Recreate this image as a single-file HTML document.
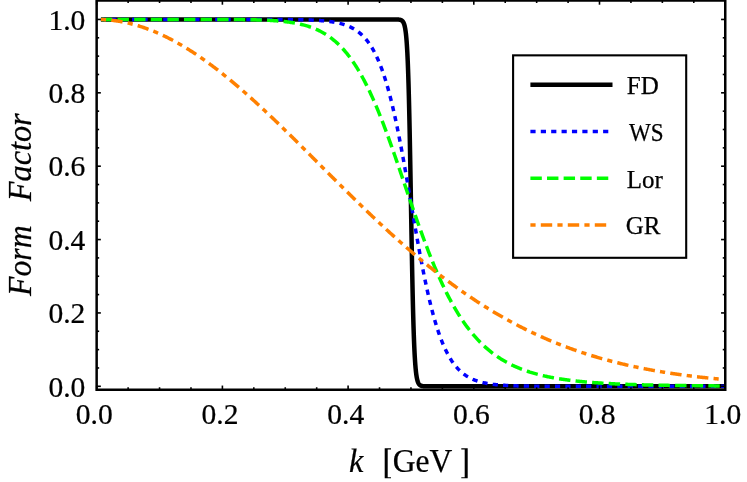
<!DOCTYPE html>
<html><head><meta charset="utf-8"><title>Form Factor</title>
<style>
html,body{margin:0;padding:0;background:#fff;}
body{width:747px;height:482px;overflow:hidden;font-family:"Liberation Serif",serif;}
svg{display:block;will-change:transform;}
text{font-family:"Liberation Serif",serif;fill:#000;stroke:#000;stroke-width:0.25px;}
.tl text{font-size:30.3px;}
.lg text{font-size:25px;}
.ax{font-size:32px;}
.it{font-style:italic;}
</style></head><body>
<svg width="747" height="482" viewBox="0 0 747 482">
<rect x="0" y="0" width="747" height="482" fill="#fff"/>
<g fill="none" stroke-linecap="butt" stroke-linejoin="round">
<path d="M100.900,19.450 L108.180,19.450 L115.460,19.450 L122.740,19.450 L130.019,19.450 L137.299,19.450 L144.579,19.450 L151.859,19.450 L159.139,19.450 L166.419,19.450 L173.699,19.450 L180.979,19.450 L188.258,19.450 L195.538,19.450 L202.818,19.450 L210.098,19.450 L217.378,19.450 L224.658,19.450 L231.938,19.450 L239.218,19.450 L246.498,19.450 L253.777,19.450 L261.057,19.450 L268.337,19.450 L275.617,19.450 L282.897,19.450 L290.177,19.450 L297.457,19.450 L304.737,19.450 L312.016,19.450 L319.296,19.450 L326.576,19.450 L333.856,19.450 L341.136,19.450 L348.416,19.450 L355.696,19.450 L362.976,19.450 L370.255,19.450 L377.535,19.450 L384.815,19.450 L392.095,19.452 L392.189,19.452 L392.284,19.453 L392.378,19.453 L392.472,19.453 L392.566,19.453 L392.661,19.453 L392.755,19.453 L392.849,19.454 L392.943,19.454 L393.038,19.454 L393.132,19.454 L393.226,19.455 L393.321,19.455 L393.415,19.455 L393.509,19.456 L393.603,19.456 L393.698,19.456 L393.792,19.457 L393.886,19.457 L393.980,19.457 L394.075,19.458 L394.169,19.458 L394.263,19.459 L394.358,19.460 L394.452,19.460 L394.546,19.461 L394.640,19.461 L394.735,19.462 L394.829,19.463 L394.923,19.464 L395.018,19.464 L395.112,19.465 L395.206,19.466 L395.300,19.467 L395.395,19.468 L395.489,19.470 L395.583,19.471 L395.677,19.472 L395.772,19.473 L395.866,19.475 L395.960,19.476 L396.055,19.478 L396.149,19.480 L396.243,19.482 L396.337,19.484 L396.432,19.486 L396.526,19.488 L396.620,19.490 L396.714,19.493 L396.809,19.495 L396.903,19.498 L396.997,19.501 L397.092,19.504 L397.186,19.508 L397.280,19.511 L397.374,19.515 L397.469,19.519 L397.563,19.523 L397.657,19.528 L397.751,19.532 L397.846,19.538 L397.940,19.543 L398.034,19.549 L398.129,19.555 L398.223,19.561 L398.317,19.568 L398.411,19.576 L398.506,19.583 L398.600,19.592 L398.694,19.600 L398.789,19.610 L398.883,19.619 L398.977,19.630 L399.071,19.641 L399.166,19.653 L399.260,19.665 L399.354,19.679 L399.448,19.693 L399.543,19.708 L399.637,19.724 L399.731,19.741 L399.826,19.759 L399.920,19.778 L400.014,19.798 L400.108,19.819 L400.203,19.842 L400.297,19.866 L400.391,19.892 L400.485,19.919 L400.580,19.948 L400.674,19.979 L400.768,20.012 L400.863,20.047 L400.957,20.083 L401.051,20.122 L401.145,20.164 L401.240,20.208 L401.334,20.255 L401.428,20.304 L401.522,20.357 L401.617,20.413 L401.711,20.472 L401.805,20.535 L401.900,20.602 L401.994,20.673 L402.088,20.749 L402.182,20.829 L402.277,20.914 L402.371,21.004 L402.465,21.099 L402.560,21.201 L402.654,21.309 L402.748,21.423 L402.842,21.544 L402.937,21.673 L403.031,21.810 L403.125,21.955 L403.219,22.108 L403.314,22.271 L403.408,22.444 L403.502,22.628 L403.597,22.823 L403.691,23.029 L403.785,23.248 L403.879,23.481 L403.974,23.727 L404.068,23.988 L404.162,24.265 L404.256,24.559 L404.351,24.870 L404.445,25.200 L404.539,25.549 L404.634,25.920 L404.728,26.312 L404.822,26.728 L404.916,27.169 L405.011,27.636 L405.105,28.130 L405.199,28.653 L405.293,29.207 L405.388,29.793 L405.482,30.414 L405.576,31.070 L405.671,31.765 L405.765,32.499 L405.859,33.276 L405.953,34.097 L406.048,34.964 L406.142,35.880 L406.236,36.848 L406.331,37.870 L406.425,38.948 L406.519,40.086 L406.613,41.287 L406.708,42.552 L406.802,43.885 L406.896,45.290 L406.990,46.769 L407.085,48.325 L407.179,49.962 L407.273,51.683 L407.368,53.491 L407.462,55.390 L407.556,57.382 L407.650,59.472 L407.745,61.662 L407.839,63.956 L407.933,66.356 L408.027,68.866 L408.122,71.488 L408.216,74.225 L408.310,77.080 L408.405,80.055 L408.499,83.152 L408.593,86.373 L408.687,89.718 L408.782,93.190 L408.876,96.789 L408.970,100.514 L409.065,104.367 L409.159,108.345 L409.253,112.449 L409.347,116.675 L409.442,121.023 L409.536,125.488 L409.630,130.068 L409.724,134.758 L409.819,139.554 L409.913,144.450 L410.007,149.441 L410.102,154.520 L410.196,159.679 L410.290,164.912 L410.384,170.211 L410.479,175.566 L410.573,180.969 L410.667,186.411 L410.761,191.883 L410.856,197.374 L410.950,202.875 L411.044,208.376 L411.139,213.867 L411.233,219.339 L411.327,224.781 L411.421,230.184 L411.516,235.539 L411.610,240.838 L411.704,246.071 L411.798,251.230 L411.893,256.309 L411.987,261.300 L412.081,266.196 L412.176,270.992 L412.270,275.682 L412.364,280.262 L412.458,284.727 L412.553,289.075 L412.647,293.301 L412.741,297.405 L412.835,301.383 L412.930,305.236 L413.024,308.961 L413.118,312.560 L413.213,316.032 L413.307,319.377 L413.401,322.598 L413.495,325.695 L413.590,328.670 L413.684,331.525 L413.778,334.262 L413.873,336.884 L413.967,339.394 L414.061,341.794 L414.155,344.088 L414.250,346.278 L414.344,348.368 L414.438,350.360 L414.532,352.259 L414.627,354.067 L414.721,355.788 L414.815,357.425 L414.910,358.981 L415.004,360.460 L415.098,361.865 L415.192,363.198 L415.287,364.463 L415.381,365.664 L415.475,366.802 L415.569,367.880 L415.664,368.902 L415.758,369.870 L415.852,370.786 L415.947,371.653 L416.041,372.474 L416.135,373.251 L416.229,373.985 L416.324,374.680 L416.418,375.336 L416.512,375.957 L416.606,376.543 L416.701,377.097 L416.795,377.620 L416.889,378.114 L416.984,378.581 L417.078,379.022 L417.172,379.438 L417.266,379.830 L417.361,380.201 L417.455,380.550 L417.549,380.880 L417.644,381.191 L417.738,381.485 L417.832,381.762 L417.926,382.023 L418.021,382.269 L418.115,382.502 L418.209,382.721 L418.303,382.927 L418.398,383.122 L418.492,383.306 L418.586,383.479 L418.681,383.642 L418.775,383.795 L418.869,383.940 L418.963,384.077 L419.058,384.206 L419.152,384.327 L419.246,384.441 L419.340,384.549 L419.435,384.651 L419.529,384.746 L419.623,384.836 L419.718,384.921 L419.812,385.001 L419.906,385.077 L420.000,385.148 L420.095,385.215 L420.189,385.278 L420.283,385.337 L420.377,385.393 L420.472,385.446 L420.566,385.495 L420.660,385.542 L420.755,385.586 L420.849,385.628 L420.943,385.667 L421.037,385.703 L421.132,385.738 L421.226,385.771 L421.320,385.802 L421.415,385.831 L421.509,385.858 L421.603,385.884 L421.697,385.908 L421.792,385.931 L421.886,385.952 L421.980,385.972 L422.074,385.991 L422.169,386.009 L422.263,386.026 L422.357,386.042 L422.452,386.057 L422.546,386.071 L422.640,386.085 L422.734,386.097 L422.829,386.109 L422.923,386.120 L423.017,386.131 L423.111,386.140 L423.206,386.150 L423.300,386.158 L423.394,386.167 L423.489,386.174 L423.583,386.182 L423.677,386.189 L423.771,386.195 L423.866,386.201 L423.960,386.207 L424.054,386.212 L424.149,386.218 L424.243,386.222 L424.337,386.227 L424.431,386.231 L424.526,386.235 L424.620,386.239 L424.714,386.242 L424.808,386.246 L424.903,386.249 L424.997,386.252 L425.091,386.255 L425.186,386.257 L425.280,386.260 L425.374,386.262 L425.468,386.264 L425.563,386.266 L425.657,386.268 L425.751,386.270 L425.845,386.272 L425.940,386.274 L426.034,386.275 L426.128,386.277 L426.223,386.278 L426.317,386.279 L426.411,386.280 L426.505,386.282 L426.600,386.283 L426.694,386.284 L426.788,386.285 L426.882,386.286 L426.977,386.286 L427.071,386.287 L427.165,386.288 L427.260,386.289 L427.354,386.289 L427.448,386.290 L427.542,386.290 L427.637,386.291 L427.731,386.292 L427.825,386.292 L427.920,386.293 L428.014,386.293 L428.108,386.293 L428.202,386.294 L428.297,386.294 L428.391,386.294 L428.485,386.295 L428.579,386.295 L428.674,386.295 L428.768,386.296 L428.862,386.296 L428.957,386.296 L429.051,386.296 L429.145,386.297 L429.239,386.297 L429.334,386.297 L429.428,386.297 L429.522,386.297 L429.616,386.297 L429.711,386.298 L429.805,386.298 L437.190,386.300 L444.575,386.300 L451.960,386.300 L459.345,386.300 L466.729,386.300 L474.114,386.300 L481.499,386.300 L488.884,386.300 L496.269,386.300 L503.654,386.300 L511.039,386.300 L518.423,386.300 L525.808,386.300 L533.193,386.300 L540.578,386.300 L547.963,386.300 L555.348,386.300 L562.733,386.300 L570.118,386.300 L577.503,386.300 L584.887,386.300 L592.272,386.300 L599.657,386.300 L607.042,386.300 L614.427,386.300 L621.812,386.300 L629.197,386.300 L636.582,386.300 L643.966,386.300 L651.351,386.300 L658.736,386.300 L666.121,386.300 L673.506,386.300 L680.891,386.300 L688.276,386.300 L695.661,386.300 L703.045,386.300 L710.430,386.300 L717.815,386.300 L725.200,386.300" stroke="#000" stroke-width="4.5"/>
<path d="M100.90,19.45 L101.79,19.45 L102.68,19.45 L103.58,19.45 L104.47,19.45 L105.36,19.45 L106.25,19.45 L107.14,19.45 L108.03,19.45 L108.93,19.45 L109.82,19.45 L110.71,19.45 L111.60,19.45 L112.49,19.45 L113.39,19.45 L114.28,19.45 L115.17,19.45 L116.06,19.45 L116.95,19.45 L117.85,19.45 L118.74,19.45 L119.63,19.45 L120.52,19.45 L121.41,19.45 L122.30,19.45 L123.20,19.45 L124.09,19.45 L124.98,19.45 L125.87,19.45 L126.76,19.45 L127.66,19.45 L128.55,19.45 L129.44,19.45 L130.33,19.45 L131.22,19.45 L132.12,19.45 L133.01,19.45 L133.90,19.45 L134.79,19.45 L135.68,19.45 L136.57,19.45 L137.47,19.45 L138.36,19.45 L139.25,19.45 L140.14,19.45 L141.03,19.45 L141.93,19.45 L142.82,19.45 L143.71,19.45 L144.60,19.45 L145.49,19.45 L146.38,19.45 L147.28,19.45 L148.17,19.45 L149.06,19.45 L149.95,19.45 L150.84,19.45 L151.74,19.45 L152.63,19.45 L153.52,19.45 L154.41,19.45 L155.30,19.45 L156.20,19.45 L157.09,19.45 L157.98,19.45 L158.87,19.45 L159.76,19.45 L160.65,19.45 L161.55,19.45 L162.44,19.45 L163.33,19.45 L164.22,19.45 L165.11,19.45 L166.01,19.45 L166.90,19.45 L167.79,19.45 L168.68,19.45 L169.57,19.45 L170.46,19.45 L171.36,19.45 L172.25,19.45 L173.14,19.45 L174.03,19.45 L174.92,19.45 L175.82,19.45 L176.71,19.45 L177.60,19.45 L178.49,19.45 L179.38,19.45 L180.28,19.45 L181.17,19.45 L182.06,19.45 L182.95,19.45 L183.84,19.45 L184.73,19.45 L185.63,19.45 L186.52,19.45 L187.41,19.45 L188.30,19.45 L189.19,19.45 L190.09,19.45 L190.98,19.45 L191.87,19.45 L192.76,19.45 L193.65,19.45 L194.55,19.45 L195.44,19.45 L196.33,19.45 L197.22,19.45 L198.11,19.45 L199.00,19.45 L199.90,19.45 L200.79,19.45 L201.68,19.45 L202.57,19.45 L203.46,19.45 L204.36,19.45 L205.25,19.45 L206.14,19.45 L207.03,19.45 L207.92,19.45 L208.81,19.45 L209.71,19.45 L210.60,19.45 L211.49,19.45 L212.38,19.45 L213.27,19.45 L214.17,19.45 L215.06,19.45 L215.95,19.45 L216.84,19.45 L217.73,19.45 L218.63,19.45 L219.52,19.45 L220.41,19.45 L221.30,19.45 L222.19,19.45 L223.08,19.45 L223.98,19.45 L224.87,19.45 L225.76,19.45 L226.65,19.45 L227.54,19.45 L228.44,19.45 L229.33,19.45 L230.22,19.45 L231.11,19.45 L232.00,19.45 L232.89,19.45 L233.79,19.45 L234.68,19.45 L235.57,19.46 L236.46,19.46 L237.35,19.46 L238.25,19.46 L239.14,19.46 L240.03,19.46 L240.92,19.46 L241.81,19.46 L242.71,19.46 L243.60,19.46 L244.49,19.46 L245.38,19.46 L246.27,19.46 L247.16,19.46 L248.06,19.46 L248.95,19.46 L249.84,19.46 L250.73,19.46 L251.62,19.46 L252.52,19.47 L253.41,19.47 L254.30,19.47 L255.19,19.47 L256.08,19.47 L256.97,19.47 L257.87,19.47 L258.76,19.47 L259.65,19.47 L260.54,19.48 L261.43,19.48 L262.33,19.48 L263.22,19.48 L264.11,19.48 L265.00,19.48 L265.89,19.49 L266.79,19.49 L267.68,19.49 L268.57,19.49 L269.46,19.50 L270.35,19.50 L271.24,19.50 L272.14,19.50 L273.03,19.51 L273.92,19.51 L274.81,19.51 L275.70,19.52 L276.60,19.52 L277.49,19.53 L278.38,19.53 L279.27,19.53 L280.16,19.54 L281.06,19.54 L281.95,19.55 L282.84,19.56 L283.73,19.56 L284.62,19.57 L285.51,19.58 L286.41,19.58 L287.30,19.59 L288.19,19.60 L289.08,19.61 L289.97,19.62 L290.87,19.63 L291.76,19.64 L292.65,19.65 L293.54,19.66 L294.43,19.67 L295.32,19.68 L296.22,19.70 L297.11,19.71 L298.00,19.73 L298.89,19.74 L299.78,19.76 L300.68,19.78 L301.57,19.80 L302.46,19.82 L303.35,19.84 L304.24,19.86 L305.14,19.89 L306.03,19.91 L306.92,19.94 L307.81,19.97 L308.70,20.00 L309.59,20.03 L310.49,20.06 L311.38,20.10 L312.27,20.14 L313.16,20.18 L314.05,20.22 L314.95,20.26 L315.84,20.31 L316.73,20.36 L317.62,20.41 L318.51,20.47 L319.41,20.53 L320.30,20.59 L321.19,20.66 L322.08,20.73 L322.97,20.80 L323.86,20.88 L324.76,20.96 L325.65,21.05 L326.54,21.15 L327.43,21.24 L328.32,21.35 L329.22,21.46 L330.11,21.58 L331.00,21.70 L331.89,21.83 L332.78,21.97 L333.67,22.11 L334.57,22.27 L335.46,22.43 L336.35,22.60 L337.24,22.79 L338.13,22.98 L339.03,23.18 L339.92,23.40 L340.81,23.63 L341.70,23.87 L342.59,24.12 L343.49,24.39 L344.38,24.68 L345.27,24.98 L346.16,25.29 L347.05,25.63 L347.94,25.98 L348.84,26.36 L349.73,26.75 L350.62,27.17 L351.51,27.61 L352.40,28.08 L353.30,28.57 L354.19,29.09 L355.08,29.64 L355.97,30.21 L356.86,30.82 L357.75,31.46 L358.65,32.14 L359.54,32.86 L360.43,33.61 L361.32,34.40 L362.21,35.24 L363.11,36.12 L364.00,37.04 L364.89,38.02 L365.78,39.05 L366.67,40.13 L367.57,41.26 L368.46,42.46 L369.35,43.71 L370.24,45.03 L371.13,46.41 L372.02,47.87 L372.92,49.39 L373.81,50.99 L374.70,52.66 L375.59,54.42 L376.48,56.26 L377.38,58.18 L378.27,60.19 L379.16,62.29 L380.05,64.49 L380.94,66.78 L381.83,69.17 L382.73,71.66 L383.62,74.25 L384.51,76.95 L385.40,79.76 L386.29,82.67 L387.19,85.70 L388.08,88.83 L388.97,92.08 L389.86,95.45 L390.75,98.92 L391.65,102.51 L392.54,106.22 L393.43,110.03 L394.32,113.96 L395.21,118.00 L396.10,122.14 L397.00,126.39 L397.89,130.74 L398.78,135.19 L399.67,139.73 L400.56,144.37 L401.46,149.09 L402.35,153.88 L403.24,158.75 L404.13,163.69 L405.02,168.69 L405.92,173.74 L406.81,178.83 L407.70,183.97 L408.59,189.13 L409.48,194.32 L410.37,199.52 L411.27,204.72 L412.16,209.92 L413.05,215.11 L413.94,220.29 L414.83,225.43 L415.73,230.54 L416.62,235.60 L417.51,240.61 L418.40,245.57 L419.29,250.46 L420.18,255.28 L421.08,260.02 L421.97,264.68 L422.86,269.25 L423.75,273.72 L424.64,278.10 L425.54,282.38 L426.43,286.56 L427.32,290.63 L428.21,294.59 L429.10,298.43 L430.00,302.17 L430.89,305.79 L431.78,309.30 L432.67,312.70 L433.56,315.98 L434.45,319.15 L435.35,322.21 L436.24,325.16 L437.13,328.00 L438.02,330.73 L438.91,333.35 L439.81,335.87 L440.70,338.29 L441.59,340.61 L442.48,342.83 L443.37,344.96 L444.26,347.00 L445.16,348.94 L446.05,350.81 L446.94,352.58 L447.83,354.28 L448.72,355.90 L449.62,357.45 L450.51,358.92 L451.40,360.32 L452.29,361.66 L453.18,362.93 L454.08,364.15 L454.97,365.30 L455.86,366.39 L456.75,367.44 L457.64,368.43 L458.53,369.37 L459.43,370.26 L460.32,371.11 L461.21,371.91 L462.10,372.68 L462.99,373.40 L463.89,374.09 L464.78,374.74 L465.67,375.36 L466.56,375.95 L467.45,376.51 L468.35,377.03 L469.24,377.53 L470.13,378.00 L471.02,378.45 L471.91,378.88 L472.80,379.28 L473.70,379.66 L474.59,380.02 L475.48,380.36 L476.37,380.68 L477.26,380.99 L478.16,381.28 L479.05,381.55 L479.94,381.81 L480.83,382.05 L481.72,382.29 L482.61,382.51 L483.51,382.71 L484.40,382.91 L485.29,383.09 L486.18,383.27 L487.07,383.44 L487.97,383.59 L488.86,383.74 L489.75,383.88 L490.64,384.01 L491.53,384.14 L492.43,384.26 L493.32,384.37 L494.21,384.48 L495.10,384.58 L495.99,384.67 L496.88,384.76 L497.78,384.84 L498.67,384.92 L499.56,385.00 L500.45,385.07 L501.34,385.14 L502.24,385.20 L503.13,385.26 L504.02,385.32 L504.91,385.37 L505.80,385.43 L506.69,385.47 L507.59,385.52 L508.48,385.56 L509.37,385.60 L510.26,385.64 L511.15,385.68 L512.05,385.71 L512.94,385.74 L513.83,385.77 L514.72,385.80 L515.61,385.83 L516.51,385.86 L517.40,385.88 L518.29,385.90 L519.18,385.93 L520.07,385.95 L520.96,385.97 L521.86,385.98 L522.75,386.00 L523.64,386.02 L524.53,386.03 L525.42,386.05 L526.32,386.06 L527.21,386.08 L528.10,386.09 L528.99,386.10 L529.88,386.11 L530.78,386.12 L531.67,386.13 L532.56,386.14 L533.45,386.15 L534.34,386.16 L535.23,386.17 L536.13,386.17 L537.02,386.18 L537.91,386.19 L538.80,386.19 L539.69,386.20 L540.59,386.20 L541.48,386.21 L542.37,386.21 L543.26,386.22 L544.15,386.22 L545.04,386.23 L545.94,386.23 L546.83,386.24 L547.72,386.24 L548.61,386.24 L549.50,386.25 L550.40,386.25 L551.29,386.25 L552.18,386.25 L553.07,386.26 L553.96,386.26 L554.86,386.26 L555.75,386.26 L556.64,386.27 L557.53,386.27 L558.42,386.27 L559.31,386.27 L560.21,386.27 L561.10,386.27 L561.99,386.28 L562.88,386.28 L563.77,386.28 L564.67,386.28 L565.56,386.28 L566.45,386.28 L567.34,386.28 L568.23,386.28 L569.12,386.28 L570.02,386.29 L570.91,386.29 L571.80,386.29 L572.69,386.29 L573.58,386.29 L574.48,386.29 L575.37,386.29 L576.26,386.29 L577.15,386.29 L578.04,386.29 L578.94,386.29 L579.83,386.29 L580.72,386.29 L581.61,386.29 L582.50,386.29 L583.39,386.29 L584.29,386.29 L585.18,386.29 L586.07,386.29 L586.96,386.29 L587.85,386.30 L588.75,386.30 L589.64,386.30 L590.53,386.30 L591.42,386.30 L592.31,386.30 L593.21,386.30 L594.10,386.30 L594.99,386.30 L595.88,386.30 L596.77,386.30 L597.66,386.30 L598.56,386.30 L599.45,386.30 L600.34,386.30 L601.23,386.30 L602.12,386.30 L603.02,386.30 L603.91,386.30 L604.80,386.30 L605.69,386.30 L606.58,386.30 L607.47,386.30 L608.37,386.30 L609.26,386.30 L610.15,386.30 L611.04,386.30 L611.93,386.30 L612.83,386.30 L613.72,386.30 L614.61,386.30 L615.50,386.30 L616.39,386.30 L617.29,386.30 L618.18,386.30 L619.07,386.30 L619.96,386.30 L620.85,386.30 L621.74,386.30 L622.64,386.30 L623.53,386.30 L624.42,386.30 L625.31,386.30 L626.20,386.30 L627.10,386.30 L627.99,386.30 L628.88,386.30 L629.77,386.30 L630.66,386.30 L631.56,386.30 L632.45,386.30 L633.34,386.30 L634.23,386.30 L635.12,386.30 L636.01,386.30 L636.91,386.30 L637.80,386.30 L638.69,386.30 L639.58,386.30 L640.47,386.30 L641.37,386.30 L642.26,386.30 L643.15,386.30 L644.04,386.30 L644.93,386.30 L645.82,386.30 L646.72,386.30 L647.61,386.30 L648.50,386.30 L649.39,386.30 L650.28,386.30 L651.18,386.30 L652.07,386.30 L652.96,386.30 L653.85,386.30 L654.74,386.30 L655.64,386.30 L656.53,386.30 L657.42,386.30 L658.31,386.30 L659.20,386.30 L660.09,386.30 L660.99,386.30 L661.88,386.30 L662.77,386.30 L663.66,386.30 L664.55,386.30 L665.45,386.30 L666.34,386.30 L667.23,386.30 L668.12,386.30 L669.01,386.30 L669.90,386.30 L670.80,386.30 L671.69,386.30 L672.58,386.30 L673.47,386.30 L674.36,386.30 L675.26,386.30 L676.15,386.30 L677.04,386.30 L677.93,386.30 L678.82,386.30 L679.72,386.30 L680.61,386.30 L681.50,386.30 L682.39,386.30 L683.28,386.30 L684.17,386.30 L685.07,386.30 L685.96,386.30 L686.85,386.30 L687.74,386.30 L688.63,386.30 L689.53,386.30 L690.42,386.30 L691.31,386.30 L692.20,386.30 L693.09,386.30 L693.99,386.30 L694.88,386.30 L695.77,386.30 L696.66,386.30 L697.55,386.30 L698.44,386.30 L699.34,386.30 L700.23,386.30 L701.12,386.30 L702.01,386.30 L702.90,386.30 L703.80,386.30 L704.69,386.30 L705.58,386.30 L706.47,386.30 L707.36,386.30 L708.25,386.30 L709.15,386.30 L710.04,386.30 L710.93,386.30 L711.82,386.30 L712.71,386.30 L713.61,386.30 L714.50,386.30 L715.39,386.30 L716.28,386.30 L717.17,386.30 L718.07,386.30 L718.96,386.30 L719.85,386.30 L720.74,386.30 L721.63,386.30 L722.52,386.30 L723.42,386.30 L724.31,386.30 L725.20,386.30" stroke="#0000ff" stroke-width="3.5" stroke-dasharray="5.193 5.193"/>
<path d="M100.90,19.45 L101.79,19.45 L102.68,19.45 L103.58,19.45 L104.47,19.45 L105.36,19.45 L106.25,19.45 L107.14,19.45 L108.03,19.45 L108.93,19.45 L109.82,19.45 L110.71,19.45 L111.60,19.45 L112.49,19.45 L113.39,19.45 L114.28,19.45 L115.17,19.45 L116.06,19.45 L116.95,19.45 L117.85,19.45 L118.74,19.45 L119.63,19.45 L120.52,19.45 L121.41,19.45 L122.30,19.45 L123.20,19.45 L124.09,19.45 L124.98,19.45 L125.87,19.45 L126.76,19.45 L127.66,19.45 L128.55,19.45 L129.44,19.45 L130.33,19.45 L131.22,19.45 L132.12,19.45 L133.01,19.45 L133.90,19.45 L134.79,19.45 L135.68,19.45 L136.57,19.45 L137.47,19.45 L138.36,19.45 L139.25,19.45 L140.14,19.45 L141.03,19.45 L141.93,19.45 L142.82,19.45 L143.71,19.45 L144.60,19.45 L145.49,19.45 L146.38,19.45 L147.28,19.45 L148.17,19.45 L149.06,19.45 L149.95,19.45 L150.84,19.45 L151.74,19.45 L152.63,19.45 L153.52,19.45 L154.41,19.45 L155.30,19.45 L156.20,19.45 L157.09,19.45 L157.98,19.45 L158.87,19.45 L159.76,19.45 L160.65,19.45 L161.55,19.45 L162.44,19.45 L163.33,19.45 L164.22,19.45 L165.11,19.45 L166.01,19.45 L166.90,19.45 L167.79,19.45 L168.68,19.45 L169.57,19.45 L170.46,19.45 L171.36,19.45 L172.25,19.45 L173.14,19.45 L174.03,19.45 L174.92,19.45 L175.82,19.45 L176.71,19.45 L177.60,19.45 L178.49,19.45 L179.38,19.45 L180.28,19.45 L181.17,19.45 L182.06,19.45 L182.95,19.45 L183.84,19.45 L184.73,19.45 L185.63,19.45 L186.52,19.45 L187.41,19.45 L188.30,19.45 L189.19,19.45 L190.09,19.45 L190.98,19.45 L191.87,19.45 L192.76,19.45 L193.65,19.45 L194.55,19.45 L195.44,19.45 L196.33,19.45 L197.22,19.45 L198.11,19.45 L199.00,19.45 L199.90,19.46 L200.79,19.46 L201.68,19.46 L202.57,19.46 L203.46,19.46 L204.36,19.46 L205.25,19.46 L206.14,19.46 L207.03,19.46 L207.92,19.46 L208.81,19.46 L209.71,19.46 L210.60,19.46 L211.49,19.47 L212.38,19.47 L213.27,19.47 L214.17,19.47 L215.06,19.47 L215.95,19.47 L216.84,19.47 L217.73,19.48 L218.63,19.48 L219.52,19.48 L220.41,19.48 L221.30,19.49 L222.19,19.49 L223.08,19.49 L223.98,19.49 L224.87,19.50 L225.76,19.50 L226.65,19.50 L227.54,19.51 L228.44,19.51 L229.33,19.52 L230.22,19.52 L231.11,19.53 L232.00,19.53 L232.89,19.54 L233.79,19.54 L234.68,19.55 L235.57,19.55 L236.46,19.56 L237.35,19.57 L238.25,19.58 L239.14,19.58 L240.03,19.59 L240.92,19.60 L241.81,19.61 L242.71,19.62 L243.60,19.63 L244.49,19.64 L245.38,19.66 L246.27,19.67 L247.16,19.68 L248.06,19.70 L248.95,19.71 L249.84,19.73 L250.73,19.74 L251.62,19.76 L252.52,19.78 L253.41,19.80 L254.30,19.82 L255.19,19.84 L256.08,19.86 L256.97,19.89 L257.87,19.91 L258.76,19.94 L259.65,19.96 L260.54,19.99 L261.43,20.02 L262.33,20.06 L263.22,20.09 L264.11,20.12 L265.00,20.16 L265.89,20.20 L266.79,20.24 L267.68,20.28 L268.57,20.33 L269.46,20.37 L270.35,20.42 L271.24,20.47 L272.14,20.53 L273.03,20.58 L273.92,20.64 L274.81,20.70 L275.70,20.76 L276.60,20.83 L277.49,20.90 L278.38,20.97 L279.27,21.05 L280.16,21.13 L281.06,21.21 L281.95,21.30 L282.84,21.39 L283.73,21.48 L284.62,21.58 L285.51,21.69 L286.41,21.79 L287.30,21.90 L288.19,22.02 L289.08,22.14 L289.97,22.27 L290.87,22.40 L291.76,22.54 L292.65,22.68 L293.54,22.83 L294.43,22.98 L295.32,23.15 L296.22,23.31 L297.11,23.49 L298.00,23.67 L298.89,23.86 L299.78,24.05 L300.68,24.26 L301.57,24.47 L302.46,24.69 L303.35,24.92 L304.24,25.15 L305.14,25.40 L306.03,25.65 L306.92,25.92 L307.81,26.19 L308.70,26.48 L309.59,26.77 L310.49,27.08 L311.38,27.40 L312.27,27.72 L313.16,28.06 L314.05,28.42 L314.95,28.78 L315.84,29.16 L316.73,29.55 L317.62,29.96 L318.51,30.38 L319.41,30.81 L320.30,31.26 L321.19,31.72 L322.08,32.20 L322.97,32.70 L323.86,33.21 L324.76,33.74 L325.65,34.28 L326.54,34.84 L327.43,35.43 L328.32,36.03 L329.22,36.65 L330.11,37.28 L331.00,37.94 L331.89,38.62 L332.78,39.32 L333.67,40.04 L334.57,40.78 L335.46,41.55 L336.35,42.33 L337.24,43.14 L338.13,43.98 L339.03,44.84 L339.92,45.72 L340.81,46.62 L341.70,47.56 L342.59,48.51 L343.49,49.50 L344.38,50.51 L345.27,51.55 L346.16,52.61 L347.05,53.70 L347.94,54.82 L348.84,55.97 L349.73,57.15 L350.62,58.36 L351.51,59.59 L352.40,60.86 L353.30,62.15 L354.19,63.48 L355.08,64.84 L355.97,66.23 L356.86,67.65 L357.75,69.10 L358.65,70.58 L359.54,72.09 L360.43,73.64 L361.32,75.22 L362.21,76.83 L363.11,78.47 L364.00,80.14 L364.89,81.85 L365.78,83.59 L366.67,85.36 L367.57,87.16 L368.46,88.99 L369.35,90.86 L370.24,92.76 L371.13,94.68 L372.02,96.64 L372.92,98.63 L373.81,100.65 L374.70,102.70 L375.59,104.78 L376.48,106.89 L377.38,109.03 L378.27,111.19 L379.16,113.39 L380.05,115.61 L380.94,117.85 L381.83,120.12 L382.73,122.42 L383.62,124.74 L384.51,127.09 L385.40,129.46 L386.29,131.85 L387.19,134.26 L388.08,136.69 L388.97,139.14 L389.86,141.61 L390.75,144.10 L391.65,146.60 L392.54,149.12 L393.43,151.66 L394.32,154.21 L395.21,156.77 L396.10,159.34 L397.00,161.92 L397.89,164.51 L398.78,167.12 L399.67,169.72 L400.56,172.34 L401.46,174.96 L402.35,177.58 L403.24,180.21 L404.13,182.84 L405.02,185.47 L405.92,188.09 L406.81,190.72 L407.70,193.35 L408.59,195.97 L409.48,198.58 L410.37,201.19 L411.27,203.80 L412.16,206.39 L413.05,208.98 L413.94,211.56 L414.83,214.13 L415.73,216.68 L416.62,219.22 L417.51,221.75 L418.40,224.27 L419.29,226.77 L420.18,229.25 L421.08,231.72 L421.97,234.17 L422.86,236.60 L423.75,239.02 L424.64,241.41 L425.54,243.79 L426.43,246.14 L427.32,248.47 L428.21,250.78 L429.10,253.07 L430.00,255.33 L430.89,257.58 L431.78,259.79 L432.67,261.99 L433.56,264.16 L434.45,266.30 L435.35,268.42 L436.24,270.52 L437.13,272.58 L438.02,274.63 L438.91,276.64 L439.81,278.63 L440.70,280.60 L441.59,282.54 L442.48,284.45 L443.37,286.33 L444.26,288.19 L445.16,290.02 L446.05,291.82 L446.94,293.60 L447.83,295.35 L448.72,297.08 L449.62,298.77 L450.51,300.44 L451.40,302.09 L452.29,303.71 L453.18,305.30 L454.08,306.86 L454.97,308.40 L455.86,309.92 L456.75,311.41 L457.64,312.87 L458.53,314.31 L459.43,315.72 L460.32,317.11 L461.21,318.48 L462.10,319.82 L462.99,321.14 L463.89,322.43 L464.78,323.70 L465.67,324.94 L466.56,326.17 L467.45,327.37 L468.35,328.55 L469.24,329.71 L470.13,330.84 L471.02,331.95 L471.91,333.05 L472.80,334.12 L473.70,335.17 L474.59,336.20 L475.48,337.21 L476.37,338.20 L477.26,339.17 L478.16,340.13 L479.05,341.06 L479.94,341.98 L480.83,342.88 L481.72,343.76 L482.61,344.62 L483.51,345.46 L484.40,346.29 L485.29,347.10 L486.18,347.90 L487.07,348.68 L487.97,349.44 L488.86,350.19 L489.75,350.92 L490.64,351.64 L491.53,352.34 L492.43,353.03 L493.32,353.71 L494.21,354.37 L495.10,355.02 L495.99,355.65 L496.88,356.27 L497.78,356.88 L498.67,357.47 L499.56,358.06 L500.45,358.63 L501.34,359.19 L502.24,359.74 L503.13,360.27 L504.02,360.80 L504.91,361.31 L505.80,361.81 L506.69,362.31 L507.59,362.79 L508.48,363.26 L509.37,363.73 L510.26,364.18 L511.15,364.62 L512.05,365.06 L512.94,365.48 L513.83,365.90 L514.72,366.31 L515.61,366.70 L516.51,367.10 L517.40,367.48 L518.29,367.85 L519.18,368.22 L520.07,368.58 L520.96,368.93 L521.86,369.27 L522.75,369.61 L523.64,369.94 L524.53,370.26 L525.42,370.58 L526.32,370.89 L527.21,371.19 L528.10,371.49 L528.99,371.78 L529.88,372.07 L530.78,372.34 L531.67,372.62 L532.56,372.88 L533.45,373.15 L534.34,373.40 L535.23,373.65 L536.13,373.90 L537.02,374.14 L537.91,374.38 L538.80,374.61 L539.69,374.83 L540.59,375.05 L541.48,375.27 L542.37,375.48 L543.26,375.69 L544.15,375.89 L545.04,376.09 L545.94,376.29 L546.83,376.48 L547.72,376.67 L548.61,376.85 L549.50,377.03 L550.40,377.21 L551.29,377.38 L552.18,377.55 L553.07,377.71 L553.96,377.88 L554.86,378.04 L555.75,378.19 L556.64,378.34 L557.53,378.49 L558.42,378.64 L559.31,378.78 L560.21,378.92 L561.10,379.06 L561.99,379.20 L562.88,379.33 L563.77,379.46 L564.67,379.58 L565.56,379.71 L566.45,379.83 L567.34,379.95 L568.23,380.07 L569.12,380.18 L570.02,380.29 L570.91,380.40 L571.80,380.51 L572.69,380.62 L573.58,380.72 L574.48,380.82 L575.37,380.92 L576.26,381.02 L577.15,381.12 L578.04,381.21 L578.94,381.30 L579.83,381.39 L580.72,381.48 L581.61,381.57 L582.50,381.65 L583.39,381.74 L584.29,381.82 L585.18,381.90 L586.07,381.98 L586.96,382.05 L587.85,382.13 L588.75,382.20 L589.64,382.28 L590.53,382.35 L591.42,382.42 L592.31,382.49 L593.21,382.55 L594.10,382.62 L594.99,382.68 L595.88,382.75 L596.77,382.81 L597.66,382.87 L598.56,382.93 L599.45,382.99 L600.34,383.05 L601.23,383.10 L602.12,383.16 L603.02,383.21 L603.91,383.27 L604.80,383.32 L605.69,383.37 L606.58,383.42 L607.47,383.47 L608.37,383.52 L609.26,383.57 L610.15,383.61 L611.04,383.66 L611.93,383.71 L612.83,383.75 L613.72,383.79 L614.61,383.84 L615.50,383.88 L616.39,383.92 L617.29,383.96 L618.18,384.00 L619.07,384.04 L619.96,384.07 L620.85,384.11 L621.74,384.15 L622.64,384.18 L623.53,384.22 L624.42,384.25 L625.31,384.29 L626.20,384.32 L627.10,384.35 L627.99,384.39 L628.88,384.42 L629.77,384.45 L630.66,384.48 L631.56,384.51 L632.45,384.54 L633.34,384.57 L634.23,384.60 L635.12,384.62 L636.01,384.65 L636.91,384.68 L637.80,384.71 L638.69,384.73 L639.58,384.76 L640.47,384.78 L641.37,384.81 L642.26,384.83 L643.15,384.85 L644.04,384.88 L644.93,384.90 L645.82,384.92 L646.72,384.95 L647.61,384.97 L648.50,384.99 L649.39,385.01 L650.28,385.03 L651.18,385.05 L652.07,385.07 L652.96,385.09 L653.85,385.11 L654.74,385.13 L655.64,385.15 L656.53,385.16 L657.42,385.18 L658.31,385.20 L659.20,385.22 L660.09,385.23 L660.99,385.25 L661.88,385.27 L662.77,385.28 L663.66,385.30 L664.55,385.31 L665.45,385.33 L666.34,385.34 L667.23,385.36 L668.12,385.37 L669.01,385.39 L669.90,385.40 L670.80,385.42 L671.69,385.43 L672.58,385.44 L673.47,385.46 L674.36,385.47 L675.26,385.48 L676.15,385.49 L677.04,385.51 L677.93,385.52 L678.82,385.53 L679.72,385.54 L680.61,385.55 L681.50,385.56 L682.39,385.58 L683.28,385.59 L684.17,385.60 L685.07,385.61 L685.96,385.62 L686.85,385.63 L687.74,385.64 L688.63,385.65 L689.53,385.66 L690.42,385.67 L691.31,385.68 L692.20,385.69 L693.09,385.70 L693.99,385.70 L694.88,385.71 L695.77,385.72 L696.66,385.73 L697.55,385.74 L698.44,385.75 L699.34,385.76 L700.23,385.76 L701.12,385.77 L702.01,385.78 L702.90,385.79 L703.80,385.79 L704.69,385.80 L705.58,385.81 L706.47,385.82 L707.36,385.82 L708.25,385.83 L709.15,385.84 L710.04,385.84 L710.93,385.85 L711.82,385.86 L712.71,385.86 L713.61,385.87 L714.50,385.88 L715.39,385.88 L716.28,385.89 L717.17,385.89 L718.07,385.90 L718.96,385.90 L719.85,385.91 L720.74,385.92 L721.63,385.92 L722.52,385.93 L723.42,385.93 L724.31,385.94 L725.20,385.94" stroke="#00ff00" stroke-width="3.5" stroke-dasharray="11.42 5.193"/>
<path d="M100.90,19.52 L101.79,19.55 L102.67,19.58 L103.56,19.62 L104.45,19.67 L105.33,19.73 L106.22,19.79 L107.11,19.85 L107.99,19.92 L108.88,20.00 L109.76,20.08 L110.65,20.17 L111.54,20.27 L112.42,20.37 L113.31,20.47 L114.20,20.59 L115.08,20.70 L115.97,20.83 L116.86,20.96 L117.74,21.09 L118.63,21.23 L119.52,21.38 L120.40,21.53 L121.29,21.69 L122.18,21.85 L123.06,22.02 L123.95,22.20 L124.83,22.38 L125.72,22.57 L126.61,22.76 L127.49,22.96 L128.38,23.16 L129.27,23.37 L130.15,23.58 L131.04,23.80 L131.93,24.03 L132.81,24.26 L133.70,24.50 L134.59,24.74 L135.47,24.99 L136.36,25.25 L137.25,25.51 L138.13,25.77 L139.02,26.04 L139.90,26.32 L140.79,26.60 L141.68,26.89 L142.56,27.18 L143.45,27.48 L144.34,27.78 L145.22,28.09 L146.11,28.41 L147.00,28.73 L147.88,29.05 L148.77,29.38 L149.66,29.72 L150.54,30.06 L151.43,30.41 L152.32,30.76 L153.20,31.12 L154.09,31.48 L154.97,31.85 L155.86,32.22 L156.75,32.60 L157.63,32.99 L158.52,33.38 L159.41,33.77 L160.29,34.17 L161.18,34.57 L162.07,34.98 L162.95,35.40 L163.84,35.82 L164.73,36.24 L165.61,36.67 L166.50,37.11 L167.39,37.55 L168.27,37.99 L169.16,38.44 L170.04,38.90 L170.93,39.36 L171.82,39.82 L172.70,40.29 L173.59,40.77 L174.48,41.25 L175.36,41.73 L176.25,42.22 L177.14,42.71 L178.02,43.21 L178.91,43.72 L179.80,44.22 L180.68,44.74 L181.57,45.25 L182.46,45.78 L183.34,46.30 L184.23,46.83 L185.11,47.37 L186.00,47.91 L186.89,48.45 L187.77,49.00 L188.66,49.56 L189.55,50.12 L190.43,50.68 L191.32,51.25 L192.21,51.82 L193.09,52.39 L193.98,52.97 L194.87,53.56 L195.75,54.15 L196.64,54.74 L197.53,55.34 L198.41,55.94 L199.30,56.54 L200.18,57.15 L201.07,57.76 L201.96,58.38 L202.84,59.00 L203.73,59.63 L204.62,60.26 L205.50,60.89 L206.39,61.53 L207.28,62.17 L208.16,62.82 L209.05,63.47 L209.94,64.12 L210.82,64.78 L211.71,65.44 L212.60,66.10 L213.48,66.77 L214.37,67.44 L215.25,68.12 L216.14,68.80 L217.03,69.48 L217.91,70.16 L218.80,70.85 L219.69,71.55 L220.57,72.24 L221.46,72.94 L222.35,73.65 L223.23,74.36 L224.12,75.07 L225.01,75.78 L225.89,76.50 L226.78,77.22 L227.67,77.94 L228.55,78.67 L229.44,79.40 L230.32,80.13 L231.21,80.87 L232.10,81.60 L232.98,82.35 L233.87,83.09 L234.76,83.84 L235.64,84.59 L236.53,85.35 L237.42,86.10 L238.30,86.86 L239.19,87.62 L240.08,88.39 L240.96,89.16 L241.85,89.93 L242.74,90.70 L243.62,91.48 L244.51,92.26 L245.39,93.04 L246.28,93.82 L247.17,94.61 L248.05,95.40 L248.94,96.19 L249.83,96.99 L250.71,97.78 L251.60,98.58 L252.49,99.38 L253.37,100.19 L254.26,100.99 L255.15,101.80 L256.03,102.61 L256.92,103.42 L257.81,104.24 L258.69,105.05 L259.58,105.87 L260.46,106.69 L261.35,107.52 L262.24,108.34 L263.12,109.17 L264.01,110.00 L264.90,110.83 L265.78,111.66 L266.67,112.50 L267.56,113.33 L268.44,114.17 L269.33,115.01 L270.22,115.85 L271.10,116.70 L271.99,117.54 L272.88,118.39 L273.76,119.24 L274.65,120.09 L275.53,120.94 L276.42,121.79 L277.31,122.64 L278.19,123.50 L279.08,124.36 L279.97,125.22 L280.85,126.08 L281.74,126.94 L282.63,127.80 L283.51,128.66 L284.40,129.53 L285.29,130.39 L286.17,131.26 L287.06,132.13 L287.95,133.00 L288.83,133.87 L289.72,134.74 L290.60,135.61 L291.49,136.48 L292.38,137.36 L293.26,138.23 L294.15,139.11 L295.04,139.99 L295.92,140.86 L296.81,141.74 L297.70,142.62 L298.58,143.50 L299.47,144.38 L300.36,145.26 L301.24,146.14 L302.13,147.02 L303.02,147.91 L303.90,148.79 L304.79,149.67 L305.67,150.56 L306.56,151.44 L307.45,152.33 L308.33,153.21 L309.22,154.10 L310.11,154.99 L310.99,155.87 L311.88,156.76 L312.77,157.65 L313.65,158.53 L314.54,159.42 L315.43,160.31 L316.31,161.19 L317.20,162.08 L318.09,162.97 L318.97,163.86 L319.86,164.75 L320.74,165.63 L321.63,166.52 L322.52,167.41 L323.40,168.30 L324.29,169.18 L325.18,170.07 L326.06,170.96 L326.95,171.84 L327.84,172.73 L328.72,173.62 L329.61,174.50 L330.50,175.39 L331.38,176.27 L332.27,177.16 L333.16,178.04 L334.04,178.92 L334.93,179.81 L335.81,180.69 L336.70,181.57 L337.59,182.46 L338.47,183.34 L339.36,184.22 L340.25,185.10 L341.13,185.98 L342.02,186.86 L342.91,187.73 L343.79,188.61 L344.68,189.49 L345.57,190.36 L346.45,191.24 L347.34,192.11 L348.23,192.99 L349.11,193.86 L350.00,194.73 L350.88,195.60 L351.77,196.47 L352.66,197.34 L353.54,198.21 L354.43,199.07 L355.32,199.94 L356.20,200.80 L357.09,201.67 L357.98,202.53 L358.86,203.39 L359.75,204.25 L360.64,205.11 L361.52,205.97 L362.41,206.83 L363.30,207.68 L364.18,208.54 L365.07,209.39 L365.95,210.24 L366.84,211.09 L367.73,211.94 L368.61,212.79 L369.50,213.63 L370.39,214.48 L371.27,215.32 L372.16,216.17 L373.05,217.01 L373.93,217.85 L374.82,218.68 L375.71,219.52 L376.59,220.35 L377.48,221.19 L378.37,222.02 L379.25,222.85 L380.14,223.68 L381.02,224.50 L381.91,225.33 L382.80,226.15 L383.68,226.97 L384.57,227.79 L385.46,228.61 L386.34,229.43 L387.23,230.24 L388.12,231.06 L389.00,231.87 L389.89,232.68 L390.78,233.48 L391.66,234.29 L392.55,235.09 L393.44,235.90 L394.32,236.70 L395.21,237.50 L396.09,238.29 L396.98,239.09 L397.87,239.88 L398.75,240.67 L399.64,241.46 L400.53,242.25 L401.41,243.03 L402.30,243.81 L403.19,244.59 L404.07,245.37 L404.96,246.15 L405.85,246.92 L406.73,247.70 L407.62,248.47 L408.51,249.24 L409.39,250.00 L410.28,250.77 L411.16,251.53 L412.05,252.29 L412.94,253.05 L413.82,253.80 L414.71,254.55 L415.60,255.30 L416.48,256.05 L417.37,256.80 L418.26,257.54 L419.14,258.29 L420.03,259.03 L420.92,259.76 L421.80,260.50 L422.69,261.23 L423.58,261.96 L424.46,262.69 L425.35,263.42 L426.23,264.14 L427.12,264.86 L428.01,265.58 L428.89,266.30 L429.78,267.01 L430.67,267.73 L431.55,268.44 L432.44,269.14 L433.33,269.85 L434.21,270.55 L435.10,271.25 L435.99,271.95 L436.87,272.64 L437.76,273.34 L438.65,274.03 L439.53,274.72 L440.42,275.40 L441.30,276.08 L442.19,276.77 L443.08,277.44 L443.96,278.12 L444.85,278.79 L445.74,279.46 L446.62,280.13 L447.51,280.80 L448.40,281.46 L449.28,282.12 L450.17,282.78 L451.06,283.43 L451.94,284.09 L452.83,284.74 L453.72,285.39 L454.60,286.03 L455.49,286.68 L456.37,287.32 L457.26,287.95 L458.15,288.59 L459.03,289.22 L459.92,289.85 L460.81,290.48 L461.69,291.10 L462.58,291.73 L463.47,292.35 L464.35,292.96 L465.24,293.58 L466.13,294.19 L467.01,294.80 L467.90,295.41 L468.79,296.01 L469.67,296.61 L470.56,297.21 L471.44,297.81 L472.33,298.40 L473.22,299.00 L474.10,299.58 L474.99,300.17 L475.88,300.75 L476.76,301.34 L477.65,301.91 L478.54,302.49 L479.42,303.06 L480.31,303.63 L481.20,304.20 L482.08,304.77 L482.97,305.33 L483.86,305.89 L484.74,306.45 L485.63,307.00 L486.51,307.56 L487.40,308.10 L488.29,308.65 L489.17,309.20 L490.06,309.74 L490.95,310.28 L491.83,310.81 L492.72,311.35 L493.61,311.88 L494.49,312.41 L495.38,312.94 L496.27,313.46 L497.15,313.98 L498.04,314.50 L498.93,315.02 L499.81,315.53 L500.70,316.04 L501.58,316.55 L502.47,317.05 L503.36,317.56 L504.24,318.06 L505.13,318.56 L506.02,319.05 L506.90,319.54 L507.79,320.03 L508.68,320.52 L509.56,321.01 L510.45,321.49 L511.34,321.97 L512.22,322.45 L513.11,322.92 L514.00,323.40 L514.88,323.87 L515.77,324.33 L516.65,324.80 L517.54,325.26 L518.43,325.72 L519.31,326.18 L520.20,326.63 L521.09,327.09 L521.97,327.54 L522.86,327.98 L523.75,328.43 L524.63,328.87 L525.52,329.31 L526.41,329.75 L527.29,330.18 L528.18,330.62 L529.07,331.05 L529.95,331.47 L530.84,331.90 L531.72,332.32 L532.61,332.74 L533.50,333.16 L534.38,333.57 L535.27,333.99 L536.16,334.40 L537.04,334.81 L537.93,335.21 L538.82,335.62 L539.70,336.02 L540.59,336.42 L541.48,336.81 L542.36,337.21 L543.25,337.60 L544.13,337.99 L545.02,338.37 L545.91,338.76 L546.79,339.14 L547.68,339.52 L548.57,339.90 L549.45,340.27 L550.34,340.65 L551.23,341.02 L552.11,341.39 L553.00,341.75 L553.89,342.12 L554.77,342.48 L555.66,342.84 L556.55,343.19 L557.43,343.55 L558.32,343.90 L559.20,344.25 L560.09,344.60 L560.98,344.94 L561.86,345.29 L562.75,345.63 L563.64,345.97 L564.52,346.31 L565.41,346.64 L566.30,346.97 L567.18,347.30 L568.07,347.63 L568.96,347.96 L569.84,348.28 L570.73,348.60 L571.62,348.92 L572.50,349.24 L573.39,349.56 L574.27,349.87 L575.16,350.18 L576.05,350.49 L576.93,350.80 L577.82,351.10 L578.71,351.41 L579.59,351.71 L580.48,352.01 L581.37,352.30 L582.25,352.60 L583.14,352.89 L584.03,353.18 L584.91,353.47 L585.80,353.76 L586.69,354.04 L587.57,354.32 L588.46,354.61 L589.34,354.88 L590.23,355.16 L591.12,355.44 L592.00,355.71 L592.89,355.98 L593.78,356.25 L594.66,356.52 L595.55,356.78 L596.44,357.04 L597.32,357.31 L598.21,357.57 L599.10,357.82 L599.98,358.08 L600.87,358.33 L601.76,358.59 L602.64,358.84 L603.53,359.09 L604.41,359.33 L605.30,359.58 L606.19,359.82 L607.07,360.06 L607.96,360.30 L608.85,360.54 L609.73,360.77 L610.62,361.01 L611.51,361.24 L612.39,361.47 L613.28,361.70 L614.17,361.93 L615.05,362.15 L615.94,362.38 L616.83,362.60 L617.71,362.82 L618.60,363.04 L619.48,363.26 L620.37,363.47 L621.26,363.69 L622.14,363.90 L623.03,364.11 L623.92,364.32 L624.80,364.52 L625.69,364.73 L626.58,364.93 L627.46,365.14 L628.35,365.34 L629.24,365.54 L630.12,365.73 L631.01,365.93 L631.90,366.13 L632.78,366.32 L633.67,366.51 L634.55,366.70 L635.44,366.89 L636.33,367.08 L637.21,367.26 L638.10,367.44 L638.99,367.63 L639.87,367.81 L640.76,367.99 L641.65,368.17 L642.53,368.34 L643.42,368.52 L644.31,368.69 L645.19,368.86 L646.08,369.04 L646.97,369.20 L647.85,369.37 L648.74,369.54 L649.62,369.71 L650.51,369.87 L651.40,370.03 L652.28,370.19 L653.17,370.35 L654.06,370.51 L654.94,370.67 L655.83,370.83 L656.72,370.98 L657.60,371.13 L658.49,371.29 L659.38,371.44 L660.26,371.59 L661.15,371.73 L662.04,371.88 L662.92,372.03 L663.81,372.17 L664.69,372.31 L665.58,372.46 L666.47,372.60 L667.35,372.74 L668.24,372.88 L669.13,373.01 L670.01,373.15 L670.90,373.28 L671.79,373.42 L672.67,373.55 L673.56,373.68 L674.45,373.81 L675.33,373.94 L676.22,374.07 L677.11,374.19 L677.99,374.32 L678.88,374.44 L679.76,374.57 L680.65,374.69 L681.54,374.81 L682.42,374.93 L683.31,375.05 L684.20,375.17 L685.08,375.28 L685.97,375.40 L686.86,375.52 L687.74,375.63 L688.63,375.74 L689.52,375.85 L690.40,375.96 L691.29,376.07 L692.18,376.18 L693.06,376.29 L693.95,376.40 L694.83,376.50 L695.72,376.61 L696.61,376.71 L697.49,376.81 L698.38,376.92 L699.27,377.02 L700.15,377.12 L701.04,377.22 L701.93,377.31 L702.81,377.41 L703.70,377.51 L704.59,377.60 L705.47,377.70 L706.36,377.79 L707.25,377.88 L708.13,377.98 L709.02,378.07 L709.90,378.16 L710.79,378.25 L711.68,378.33 L712.56,378.42 L713.45,378.51 L714.34,378.59 L715.22,378.68 L716.11,378.76 L717.00,378.85 L717.88,378.93 L718.77,379.01 L719.66,379.09 L720.54,379.17 L721.43,379.25" stroke="#ff8000" stroke-width="3.5" stroke-dasharray="5.193 5.193 11.42 5.193"/>
</g>
<g stroke="#000" stroke-width="1.6" fill="none">
<line x1="96.70" y1="389.75" x2="96.70" y2="385.55"/>
<line x1="96.70" y1="0.50" x2="96.70" y2="4.70"/>
<line x1="96.65" y1="386.30" x2="100.85" y2="386.30"/>
<line x1="725.25" y1="386.30" x2="721.05" y2="386.30"/>
<line x1="128.12" y1="389.75" x2="128.12" y2="387.25"/>
<line x1="128.12" y1="0.50" x2="128.12" y2="3.00"/>
<line x1="96.65" y1="367.96" x2="99.15" y2="367.96"/>
<line x1="725.25" y1="367.96" x2="722.75" y2="367.96"/>
<line x1="159.55" y1="389.75" x2="159.55" y2="387.25"/>
<line x1="159.55" y1="0.50" x2="159.55" y2="3.00"/>
<line x1="96.65" y1="349.62" x2="99.15" y2="349.62"/>
<line x1="725.25" y1="349.62" x2="722.75" y2="349.62"/>
<line x1="190.98" y1="389.75" x2="190.98" y2="387.25"/>
<line x1="190.98" y1="0.50" x2="190.98" y2="3.00"/>
<line x1="96.65" y1="331.27" x2="99.15" y2="331.27"/>
<line x1="725.25" y1="331.27" x2="722.75" y2="331.27"/>
<line x1="222.40" y1="389.75" x2="222.40" y2="385.55"/>
<line x1="222.40" y1="0.50" x2="222.40" y2="4.70"/>
<line x1="96.65" y1="312.93" x2="100.85" y2="312.93"/>
<line x1="725.25" y1="312.93" x2="721.05" y2="312.93"/>
<line x1="253.82" y1="389.75" x2="253.82" y2="387.25"/>
<line x1="253.82" y1="0.50" x2="253.82" y2="3.00"/>
<line x1="96.65" y1="294.59" x2="99.15" y2="294.59"/>
<line x1="725.25" y1="294.59" x2="722.75" y2="294.59"/>
<line x1="285.25" y1="389.75" x2="285.25" y2="387.25"/>
<line x1="285.25" y1="0.50" x2="285.25" y2="3.00"/>
<line x1="96.65" y1="276.25" x2="99.15" y2="276.25"/>
<line x1="725.25" y1="276.25" x2="722.75" y2="276.25"/>
<line x1="316.68" y1="389.75" x2="316.68" y2="387.25"/>
<line x1="316.68" y1="0.50" x2="316.68" y2="3.00"/>
<line x1="96.65" y1="257.90" x2="99.15" y2="257.90"/>
<line x1="725.25" y1="257.90" x2="722.75" y2="257.90"/>
<line x1="348.10" y1="389.75" x2="348.10" y2="385.55"/>
<line x1="348.10" y1="0.50" x2="348.10" y2="4.70"/>
<line x1="96.65" y1="239.56" x2="100.85" y2="239.56"/>
<line x1="725.25" y1="239.56" x2="721.05" y2="239.56"/>
<line x1="379.52" y1="389.75" x2="379.52" y2="387.25"/>
<line x1="379.52" y1="0.50" x2="379.52" y2="3.00"/>
<line x1="96.65" y1="221.22" x2="99.15" y2="221.22"/>
<line x1="725.25" y1="221.22" x2="722.75" y2="221.22"/>
<line x1="410.95" y1="389.75" x2="410.95" y2="387.25"/>
<line x1="410.95" y1="0.50" x2="410.95" y2="3.00"/>
<line x1="96.65" y1="202.88" x2="99.15" y2="202.88"/>
<line x1="725.25" y1="202.88" x2="722.75" y2="202.88"/>
<line x1="442.38" y1="389.75" x2="442.38" y2="387.25"/>
<line x1="442.38" y1="0.50" x2="442.38" y2="3.00"/>
<line x1="96.65" y1="184.53" x2="99.15" y2="184.53"/>
<line x1="725.25" y1="184.53" x2="722.75" y2="184.53"/>
<line x1="473.80" y1="389.75" x2="473.80" y2="385.55"/>
<line x1="473.80" y1="0.50" x2="473.80" y2="4.70"/>
<line x1="96.65" y1="166.19" x2="100.85" y2="166.19"/>
<line x1="725.25" y1="166.19" x2="721.05" y2="166.19"/>
<line x1="505.23" y1="389.75" x2="505.23" y2="387.25"/>
<line x1="505.23" y1="0.50" x2="505.23" y2="3.00"/>
<line x1="96.65" y1="147.85" x2="99.15" y2="147.85"/>
<line x1="725.25" y1="147.85" x2="722.75" y2="147.85"/>
<line x1="536.65" y1="389.75" x2="536.65" y2="387.25"/>
<line x1="536.65" y1="0.50" x2="536.65" y2="3.00"/>
<line x1="96.65" y1="129.50" x2="99.15" y2="129.50"/>
<line x1="725.25" y1="129.50" x2="722.75" y2="129.50"/>
<line x1="568.08" y1="389.75" x2="568.08" y2="387.25"/>
<line x1="568.08" y1="0.50" x2="568.08" y2="3.00"/>
<line x1="96.65" y1="111.16" x2="99.15" y2="111.16"/>
<line x1="725.25" y1="111.16" x2="722.75" y2="111.16"/>
<line x1="599.50" y1="389.75" x2="599.50" y2="385.55"/>
<line x1="599.50" y1="0.50" x2="599.50" y2="4.70"/>
<line x1="96.65" y1="92.82" x2="100.85" y2="92.82"/>
<line x1="725.25" y1="92.82" x2="721.05" y2="92.82"/>
<line x1="630.93" y1="389.75" x2="630.93" y2="387.25"/>
<line x1="630.93" y1="0.50" x2="630.93" y2="3.00"/>
<line x1="96.65" y1="74.48" x2="99.15" y2="74.48"/>
<line x1="725.25" y1="74.48" x2="722.75" y2="74.48"/>
<line x1="662.35" y1="389.75" x2="662.35" y2="387.25"/>
<line x1="662.35" y1="0.50" x2="662.35" y2="3.00"/>
<line x1="96.65" y1="56.13" x2="99.15" y2="56.13"/>
<line x1="725.25" y1="56.13" x2="722.75" y2="56.13"/>
<line x1="693.78" y1="389.75" x2="693.78" y2="387.25"/>
<line x1="693.78" y1="0.50" x2="693.78" y2="3.00"/>
<line x1="96.65" y1="37.79" x2="99.15" y2="37.79"/>
<line x1="725.25" y1="37.79" x2="722.75" y2="37.79"/>
<line x1="725.20" y1="389.75" x2="725.20" y2="385.55"/>
<line x1="725.20" y1="0.50" x2="725.20" y2="4.70"/>
<line x1="96.65" y1="19.45" x2="100.85" y2="19.45"/>
<line x1="725.25" y1="19.45" x2="721.05" y2="19.45"/>
</g>
<rect x="96.65" y="0.5" width="628.6" height="389.25" fill="none" stroke="#000" stroke-width="2.5"/>
<g class="tl">
<text transform="translate(94.30,424.4) scale(0.976,1)" text-anchor="middle">0.0</text>
<text transform="translate(220.00,424.4) scale(0.976,1)" text-anchor="middle">0.2</text>
<text transform="translate(345.70,424.4) scale(0.976,1)" text-anchor="middle">0.4</text>
<text transform="translate(471.40,424.4) scale(0.976,1)" text-anchor="middle">0.6</text>
<text transform="translate(597.10,424.4) scale(0.976,1)" text-anchor="middle">0.8</text>
<text transform="translate(722.80,424.4) scale(0.976,1)" text-anchor="middle">1.0</text>
<text transform="translate(85.4,396.50) scale(0.976,1)" text-anchor="end">0.0</text>
<text transform="translate(85.4,323.13) scale(0.976,1)" text-anchor="end">0.2</text>
<text transform="translate(85.4,249.76) scale(0.976,1)" text-anchor="end">0.4</text>
<text transform="translate(85.4,176.39) scale(0.976,1)" text-anchor="end">0.6</text>
<text transform="translate(85.4,103.02) scale(0.976,1)" text-anchor="end">0.8</text>
<text transform="translate(85.4,29.65) scale(0.976,1)" text-anchor="end">1.0</text>
</g>
<g class="lg">
<rect x="513.1" y="55.35" width="173.1" height="202.45" fill="#fff" stroke="#000" stroke-width="2.1"/>
<g fill="none" stroke-width="3.5">
<line x1="530.4" y1="84.8" x2="612.5" y2="84.8" stroke="#000" stroke-width="4.5"/>
<line x1="530.4" y1="131.6" x2="612.5" y2="131.6" stroke="#0000ff" stroke-dasharray="5.193 5.193"/>
<line x1="530.4" y1="178.3" x2="612.5" y2="178.3" stroke="#00ff00" stroke-dasharray="11.42 5.193"/>
<line x1="530.4" y1="225.1" x2="611" y2="225.1" stroke="#ff8000" stroke-dasharray="5.193 5.193 11.42 5.193"/>
</g>
<text x="626.8" y="94">FD</text>
<text x="629" y="140.6" textLength="34.6" lengthAdjust="spacingAndGlyphs">WS</text>
<text x="626.8" y="187.6">Lor</text>
<text x="625.8" y="234.4">GR</text>
</g>
<text class="it" font-size="33" transform="translate(348.9,472) scale(0.98,1)">k</text>
<text font-size="33" transform="translate(392.8,472) scale(0.957,1)">GeV</text>
<path d="M384.7,448.3 H391 V449.4 H387.7 V477.2 H391 V478.3 H384.7 Z" fill="#000"/>
<path d="M467.7,448.3 H461.3 V449.4 H464.7 V477.2 H461.3 V478.3 H467.7 Z" fill="#000"/>
<text class="it" font-size="33.4" transform="translate(30.9,295.9) rotate(-90) scale(0.95,1)">Form</text>
<text class="it" font-size="33.4" transform="translate(30.9,201.2) rotate(-90) scale(0.967,1)">Factor</text>
</svg>
</body></html>
